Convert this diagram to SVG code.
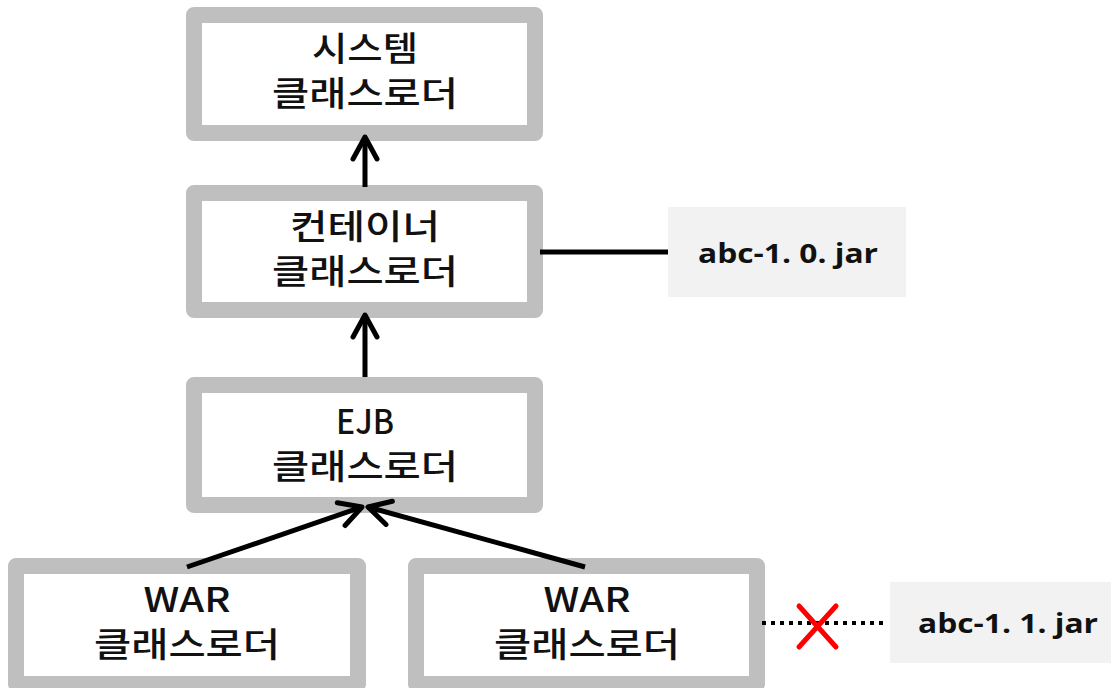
<svg xmlns="http://www.w3.org/2000/svg" width="1111" height="688" viewBox="0 0 1111 688">
<style>
.box{fill:#ffffff;stroke:#bfbfbf;stroke-width:16;stroke-linejoin:round}
.jar{fill:#f2f2f2}
.lbl{font-family:"Noto Sans CJK KR","Malgun Gothic",sans-serif;font-size:34px;font-weight:500;fill:#111;text-anchor:middle}
.jt{font-family:"Open Sans","Noto Sans",sans-serif;font-size:26px;font-weight:700;fill:#111}
.conn{stroke:#000;stroke-width:5;fill:none}
</style>
<defs>
<marker id="arr" markerUnits="userSpaceOnUse" viewBox="-30 -20 40 40" markerWidth="40" markerHeight="40" refX="0" refY="0" orient="auto" overflow="visible">
<path d="M-22,-12 L0,0 L-22,12" fill="none" stroke="#000" stroke-width="5" stroke-linecap="round" stroke-linejoin="round"/>
</marker>
</defs>
<g id="system">
<rect class="box" x="194" y="15" width="341" height="118"/>
<text class="lbl" x="365" y="61" textLength="106" lengthAdjust="spacingAndGlyphs">시스템</text>
<text class="lbl" x="365" y="106" textLength="186" lengthAdjust="spacingAndGlyphs">클래스로더</text>
</g>
<g id="container">
<rect class="box" x="194" y="193" width="341" height="117"/>
<text class="lbl" x="365" y="239" textLength="150" lengthAdjust="spacingAndGlyphs">컨테이너</text>
<text class="lbl" x="365" y="284" textLength="186" lengthAdjust="spacingAndGlyphs">클래스로더</text>
</g>
<g id="ejb">
<rect class="box" x="194" y="385" width="341" height="120"/>
<text class="lbl" x="365" y="434" textLength="58" lengthAdjust="spacingAndGlyphs">EJB</text>
<text class="lbl" x="365" y="479" textLength="186" lengthAdjust="spacingAndGlyphs">클래스로더</text>
</g>
<g id="war1">
<rect class="box" x="16" y="566" width="342" height="118"/>
<text class="lbl" x="187" y="612" textLength="87" lengthAdjust="spacingAndGlyphs">WAR</text>
<text class="lbl" x="187" y="657" textLength="186" lengthAdjust="spacingAndGlyphs">클래스로더</text>
</g>
<g id="war2">
<rect class="box" x="416" y="566" width="341" height="118"/>
<text class="lbl" x="587" y="612" textLength="87" lengthAdjust="spacingAndGlyphs">WAR</text>
<text class="lbl" x="587" y="657" textLength="186" lengthAdjust="spacingAndGlyphs">클래스로더</text>
</g>
<g id="jar10">
<rect class="jar" x="668" y="207" width="238" height="90"/>
<text class="jt" x="698" y="263" textLength="180" lengthAdjust="spacingAndGlyphs">abc-1. 0. jar</text>
</g>
<g id="jar11">
<rect class="jar" x="890" y="582" width="221" height="81"/>
<text class="jt" x="918" y="633" textLength="180" lengthAdjust="spacingAndGlyphs">abc-1. 1. jar</text>
</g>
<g id="connectors">
<line class="conn" x1="365" y1="187" x2="365" y2="137" marker-end="url(#arr)"/>
<line class="conn" x1="365" y1="377" x2="365" y2="315" marker-end="url(#arr)"/>
<line class="conn" x1="187" y1="567" x2="362" y2="507" marker-end="url(#arr)"/>
<line class="conn" x1="585" y1="567" x2="368" y2="507" marker-end="url(#arr)"/>
<line class="conn" x1="540" y1="252" x2="668" y2="252"/>
<line x1="762" y1="623" x2="884" y2="623" stroke="#000" stroke-width="4" stroke-dasharray="4 5"/>
<g id="cross" stroke="#ff0000" stroke-width="5" stroke-linecap="round">
<line x1="799" y1="606" x2="836" y2="647"/>
<line x1="836" y1="606" x2="799" y2="647"/>
</g>
</g>
</svg>
